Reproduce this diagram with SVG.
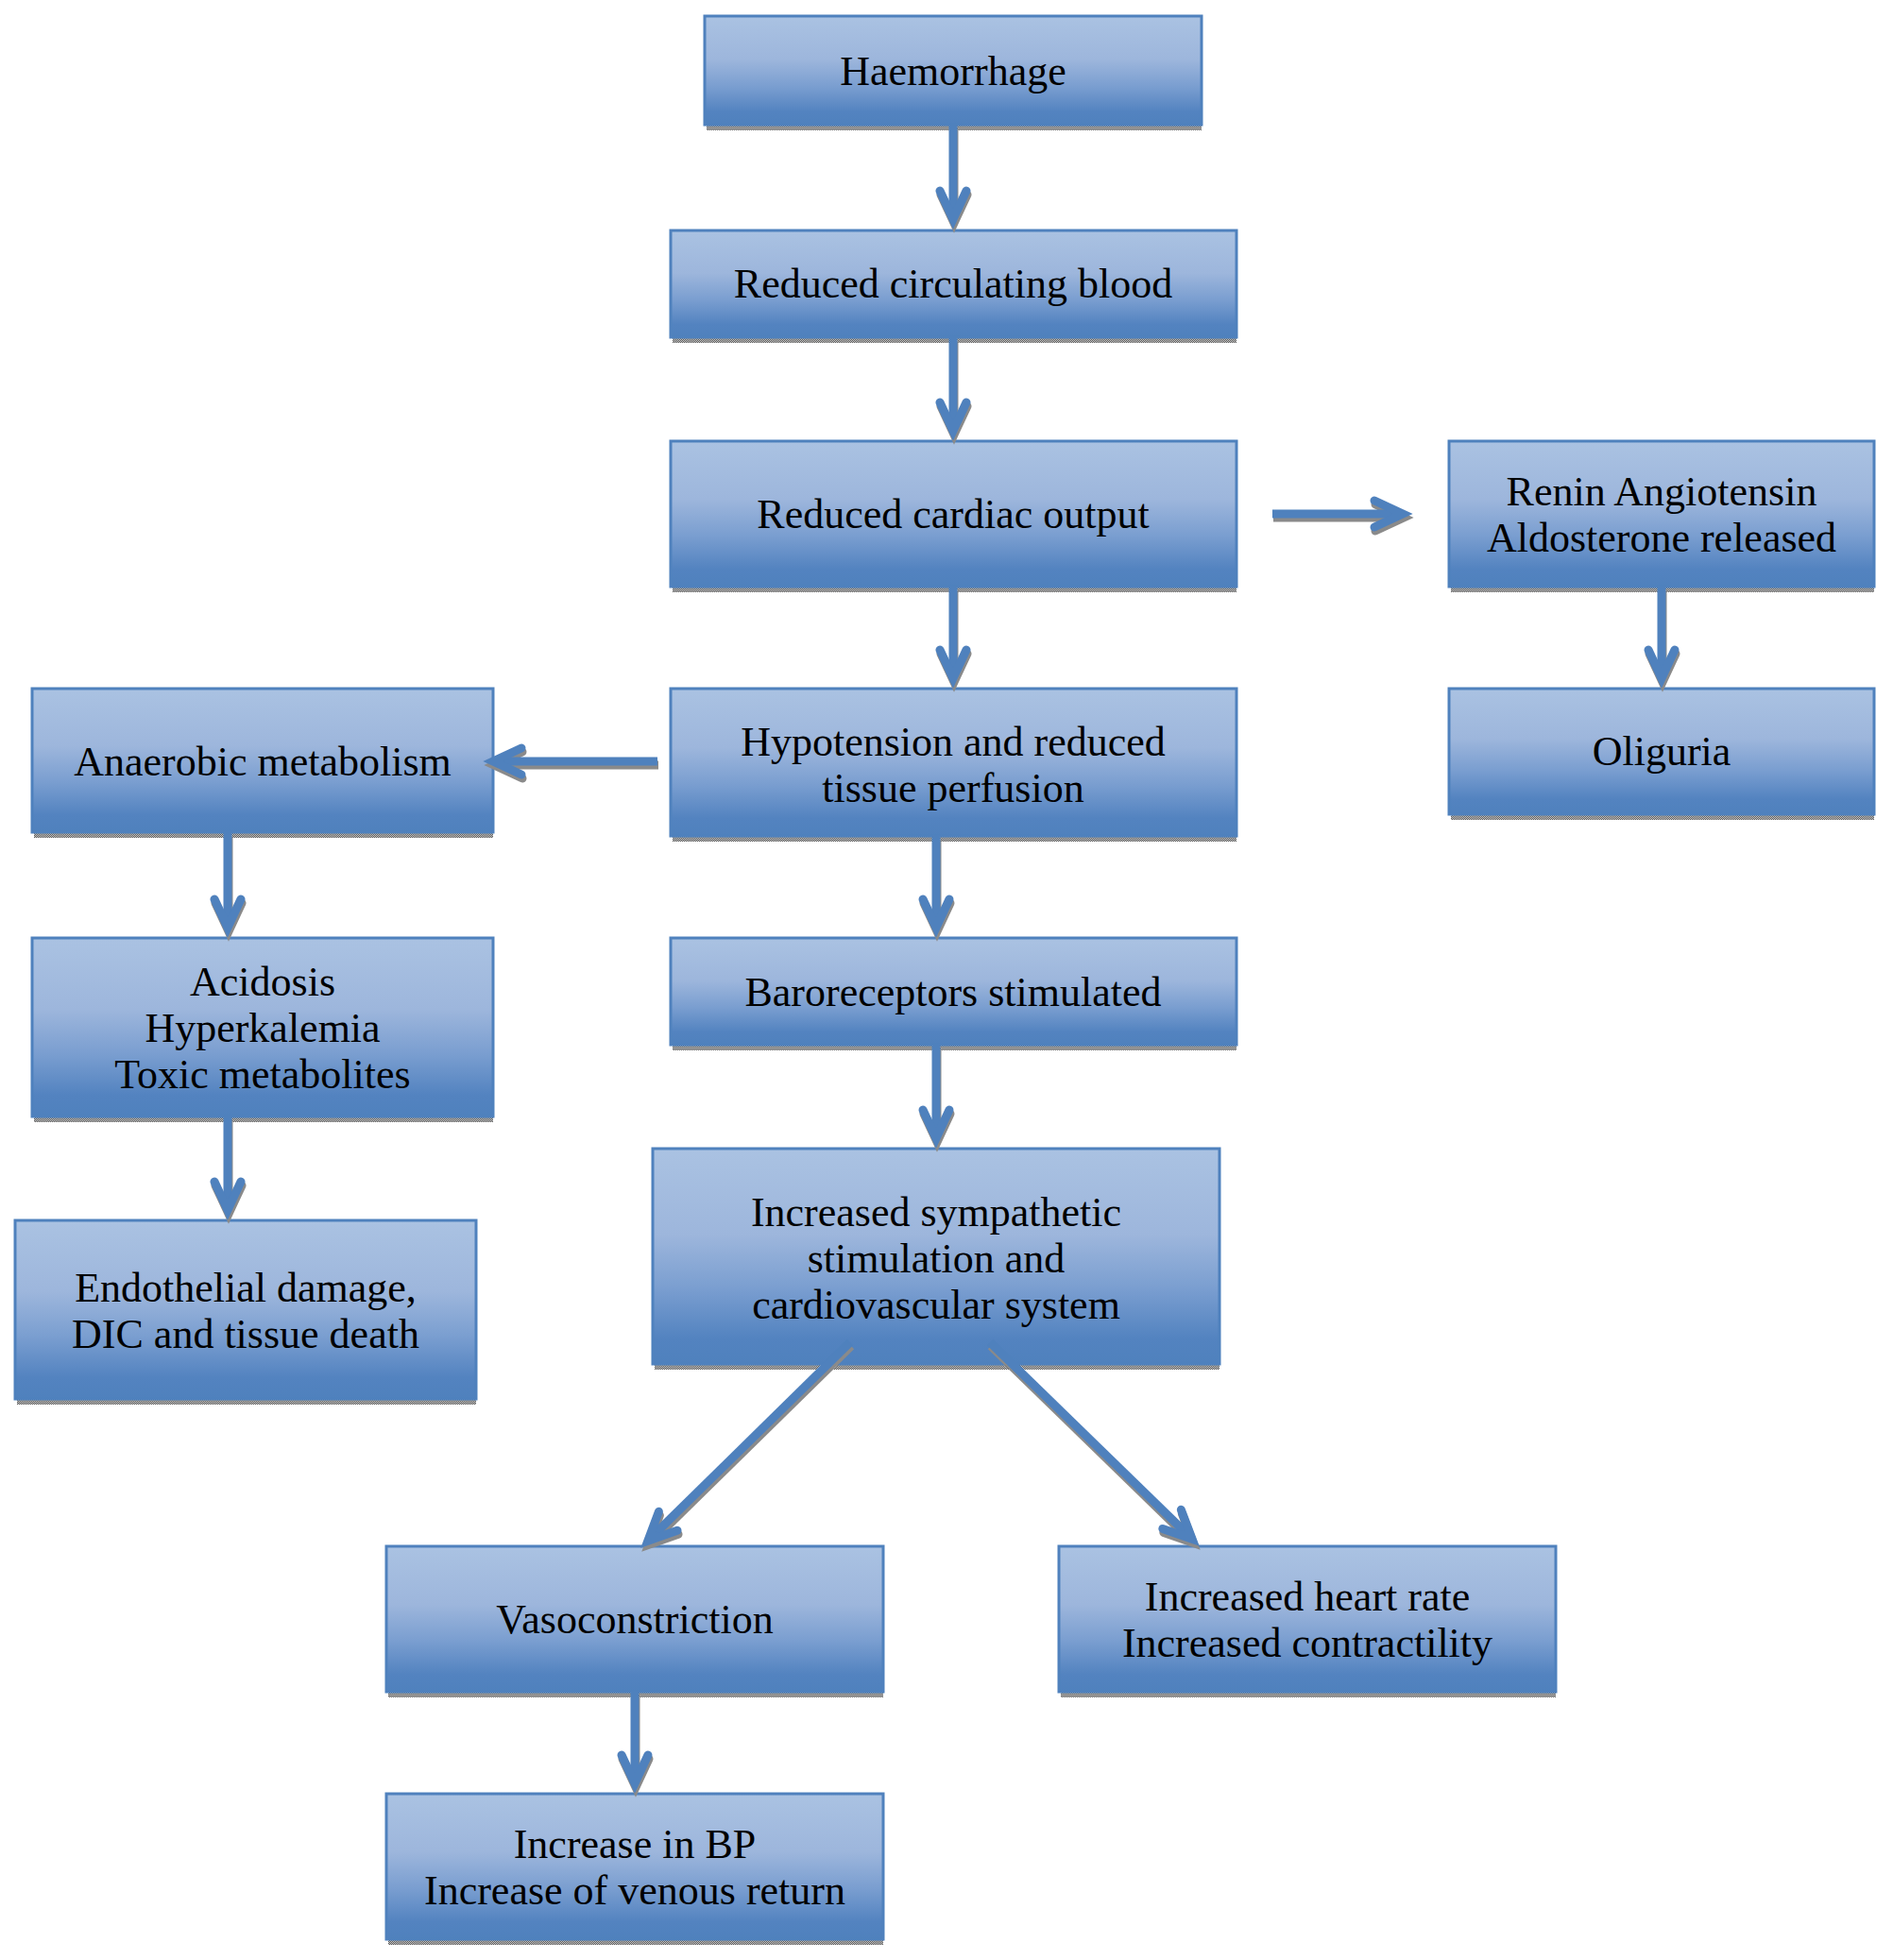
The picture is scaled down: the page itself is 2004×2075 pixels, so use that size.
<svg xmlns="http://www.w3.org/2000/svg" width="2004" height="2075" viewBox="0 0 2004 2075">
<defs>
  <linearGradient id="boxfill" x1="0" y1="0" x2="0" y2="1">
    <stop offset="0" stop-color="#aac2e2"/>
    <stop offset="0.4" stop-color="#9db6dc"/>
    <stop offset="0.65" stop-color="#7a9ed0"/>
    <stop offset="0.88" stop-color="#5383c0"/>
    <stop offset="1" stop-color="#4f81bd"/>
  </linearGradient>
  <pattern id="dither" width="2" height="2" patternUnits="userSpaceOnUse">
    <rect width="2" height="2" fill="#c8c8c8"/>
    <rect width="1" height="1" fill="#5a5a5a"/>
    <rect x="1" y="1" width="1" height="1" fill="#5a5a5a"/>
  </pattern>
  <marker id="ah" markerUnits="userSpaceOnUse" markerWidth="80" markerHeight="80" viewBox="-40 -40 80 80" refX="0" refY="0" orient="auto" overflow="visible">
    <path d="M -25 -14 L 5 0 L -25 14" fill="none" stroke="#4f81bd" stroke-width="9" stroke-linecap="round" stroke-linejoin="miter"/>
  </marker>
  <marker id="ahs" markerUnits="userSpaceOnUse" markerWidth="80" markerHeight="80" viewBox="-40 -40 80 80" refX="0" refY="0" orient="auto" overflow="visible">
    <path d="M -25 -14 L 5 0 L -25 14" fill="none" stroke="#8a8a8a" stroke-width="9" stroke-linecap="round" stroke-linejoin="miter"/>
  </marker>
</defs>
<style>
  .box { fill: url(#boxfill); stroke: #4f81bd; stroke-width: 3; }
  .shadow { fill: url(#dither); }
  .lbl { font-family: "Liberation Serif", "Times New Roman", serif; font-size: 44px; fill: #000; text-anchor: middle; }
  .conn { fill: none; stroke: #4f81bd; stroke-width: 9; marker-end: url(#ah); }
  .connsh { fill: none; stroke: #8a8a8a; stroke-width: 9; marker-end: url(#ahs); }
</style>
<rect width="2004" height="2075" fill="#ffffff"/>

<g id="haemorrhage">
  <rect class="shadow" x="748" y="23" width="524" height="115"/>
  <rect class="box" x="746" y="17" width="526" height="115"/>
  <text class="lbl" x="1009" y="90">Haemorrhage</text>
</g>
<g id="reduced-circulating-blood">
  <rect class="shadow" x="712" y="250" width="597" height="113"/>
  <rect class="box" x="710" y="244" width="599" height="113"/>
  <text class="lbl" x="1009" y="315">Reduced circulating blood</text>
</g>
<g id="reduced-cardiac-output">
  <rect class="shadow" x="712" y="473" width="597" height="154"/>
  <rect class="box" x="710" y="467" width="599" height="154"/>
  <text class="lbl" x="1009" y="559">Reduced cardiac output</text>
</g>
<g id="renin-angiotensin">
  <rect class="shadow" x="1536" y="473" width="448" height="154"/>
  <rect class="box" x="1534" y="467" width="450" height="154"/>
  <text class="lbl" x="1759" y="535">Renin Angiotensin</text>
  <text class="lbl" x="1759" y="584">Aldosterone released</text>
</g>
<g id="hypotension">
  <rect class="shadow" x="712" y="735" width="597" height="156"/>
  <rect class="box" x="710" y="729" width="599" height="156"/>
  <text class="lbl" x="1009" y="800">Hypotension and reduced</text>
  <text class="lbl" x="1009" y="849">tissue perfusion</text>
</g>
<g id="anaerobic-metabolism">
  <rect class="shadow" x="36" y="735" width="486" height="152"/>
  <rect class="box" x="34" y="729" width="488" height="152"/>
  <text class="lbl" x="278" y="821">Anaerobic metabolism</text>
</g>
<g id="oliguria">
  <rect class="shadow" x="1536" y="735" width="448" height="133"/>
  <rect class="box" x="1534" y="729" width="450" height="133"/>
  <text class="lbl" x="1759" y="810">Oliguria</text>
</g>
<g id="baroreceptors">
  <rect class="shadow" x="712" y="999" width="597" height="113"/>
  <rect class="box" x="710" y="993" width="599" height="113"/>
  <text class="lbl" x="1009" y="1065">Baroreceptors stimulated</text>
</g>
<g id="acidosis">
  <rect class="shadow" x="36" y="999" width="486" height="189"/>
  <rect class="box" x="34" y="993" width="488" height="189"/>
  <text class="lbl" x="278" y="1054">Acidosis</text>
  <text class="lbl" x="278" y="1103">Hyperkalemia</text>
  <text class="lbl" x="278" y="1152">Toxic metabolites</text>
</g>
<g id="sympathetic">
  <rect class="shadow" x="693" y="1222" width="598" height="228"/>
  <rect class="box" x="691" y="1216" width="600" height="228"/>
  <text class="lbl" x="991" y="1298">Increased sympathetic</text>
  <text class="lbl" x="991" y="1347">stimulation and</text>
  <text class="lbl" x="991" y="1396">cardiovascular system</text>
</g>
<g id="endothelial">
  <rect class="shadow" x="18" y="1298" width="486" height="189"/>
  <rect class="box" x="16" y="1292" width="488" height="189"/>
  <text class="lbl" x="260" y="1378">Endothelial damage,</text>
  <text class="lbl" x="260" y="1427">DIC and tissue death</text>
</g>
<g id="vasoconstriction">
  <rect class="shadow" x="411" y="1643" width="524" height="154"/>
  <rect class="box" x="409" y="1637" width="526" height="154"/>
  <text class="lbl" x="672" y="1729">Vasoconstriction</text>
</g>
<g id="heart-rate">
  <rect class="shadow" x="1123" y="1643" width="524" height="154"/>
  <rect class="box" x="1121" y="1637" width="526" height="154"/>
  <text class="lbl" x="1384" y="1705">Increased heart rate</text>
  <text class="lbl" x="1384" y="1754">Increased contractility</text>
</g>
<g id="increase-bp">
  <rect class="shadow" x="411" y="1905" width="524" height="154"/>
  <rect class="box" x="409" y="1899" width="526" height="154"/>
  <text class="lbl" x="672" y="1967">Increase in BP</text>
  <text class="lbl" x="672" y="2016">Increase of venous return</text>
</g>

<g id="connectors">
  <g id="connector-shadows" transform="translate(1,4)">
    <line class="connsh" x1="1009" y1="132" x2="1009" y2="227"/>
    <line class="connsh" x1="1009" y1="357" x2="1009" y2="451"/>
    <line class="connsh" x1="1009" y1="621" x2="1009" y2="713"/>
    <line class="connsh" x1="1347" y1="544" x2="1480" y2="544"/>
    <line class="connsh" x1="696" y1="806" x2="527" y2="806"/>
    <line class="connsh" x1="1759" y1="621" x2="1759" y2="713"/>
    <line class="connsh" x1="991" y1="885" x2="991" y2="977"/>
    <line class="connsh" x1="991" y1="1106" x2="991" y2="1200"/>
    <line class="connsh" x1="241" y1="881" x2="241" y2="977"/>
    <line class="connsh" x1="241" y1="1182" x2="241" y2="1276"/>
    <line class="connsh" x1="900" y1="1421" x2="689.4" y2="1627.8"/>
    <line class="connsh" x1="1048" y1="1421" x2="1258.5" y2="1625.8"/>
    <line class="connsh" x1="672" y1="1791" x2="672" y2="1883"/>
  </g>
  <line class="conn" x1="1009" y1="132" x2="1009" y2="227"/>
  <line class="conn" x1="1009" y1="357" x2="1009" y2="451"/>
  <line class="conn" x1="1009" y1="621" x2="1009" y2="713"/>
  <line class="conn" x1="1347" y1="544" x2="1480" y2="544"/>
  <line class="conn" x1="696" y1="806" x2="527" y2="806"/>
  <line class="conn" x1="1759" y1="621" x2="1759" y2="713"/>
  <line class="conn" x1="991" y1="885" x2="991" y2="977"/>
  <line class="conn" x1="991" y1="1106" x2="991" y2="1200"/>
  <line class="conn" x1="241" y1="881" x2="241" y2="977"/>
  <line class="conn" x1="241" y1="1182" x2="241" y2="1276"/>
  <line class="conn" x1="900" y1="1421" x2="689.4" y2="1627.8"/>
  <line class="conn" x1="1048" y1="1421" x2="1258.5" y2="1625.8"/>
  <line class="conn" x1="672" y1="1791" x2="672" y2="1883"/>
</g>
</svg>
